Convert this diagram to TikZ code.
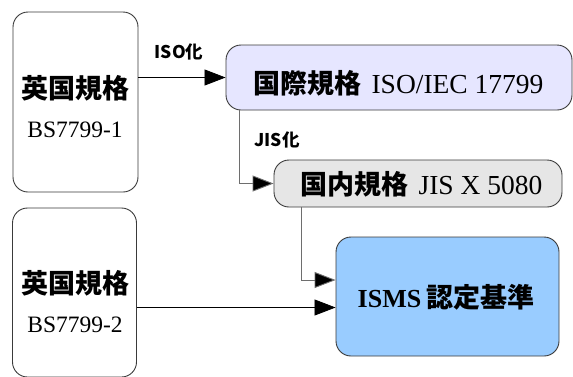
\documentclass[tikz,border=0pt]{standalone}
\usepackage{fontspec}
\setmainfont{Liberation Serif}
\newfontfamily\jp{Noto Sans CJK JP}
\usetikzlibrary{arrows.meta,calc}
\definecolor{bordgray}{HTML}{3A3A3A}
\definecolor{linegray}{HTML}{6E6E6E}
\definecolor{isofill}{HTML}{E6E6FF}
\definecolor{jisfill}{HTML}{E6E6E6}
\definecolor{ismsfill}{HTML}{99CCFF}
\tikzset{
  box/.style={draw=bordgray, line width=0.9pt, rounded corners=15pt, inner sep=0pt},
  jpb/.style={font=\jp\bfseries\fontsize{27}{30}\selectfont, inner sep=0pt},
  lat/.style={font=\fontsize{23.5}{26}\selectfont, inner sep=0pt},
  lbl/.style={font=\jp\bfseries\fontsize{17.5}{20}\selectfont, inner sep=0pt},
  arr/.style={draw=black, line width=0.8pt, -{Triangle[length=21pt,width=16pt]}},
  garr/.style={draw=linegray, line width=0.9pt, -{Triangle[length=21pt,width=16pt,fill=black]}},
}
\begin{document}
\begin{tikzpicture}[x=1pt,y=-1pt]
\useasboundingbox (0,0) rectangle (573,376);
% boxes
\node[box, minimum width=125pt, minimum height=180pt] (A) at (75.5,102) {};
\node[box, minimum width=124pt, minimum height=169pt] (B) at (74.5,292.5) {};
\node[box, fill=isofill, minimum width=346pt, minimum height=65pt] (iso) at (399,77.5) {};
\node[box, fill=jisfill, minimum width=288pt, minimum height=47pt] (jis) at (418,183.5) {};
\node[box, fill=ismsfill, minimum width=223pt, minimum height=119pt] (isms) at (447.5,296.5) {};
% texts
\node[jpb] (A1) at (75,88) {英国規格};
\node[lat] (A2) at (75,129.5) {BS7799-1};
\node[jpb] (B1) at (75,283) {英国規格};
\node[lat] (B2) at (75,324.5) {BS7799-2};
\node[inner sep=0pt] (isot) at (398.5,83) {{\jp\bfseries\fontsize{27}{30}\selectfont 国際規格}\hspace{10pt}{\fontsize{27.5}{30}\selectfont ISO/IEC 17799}};
\node[inner sep=0pt] (jist) at (421.5,184) {{\jp\bfseries\fontsize{27}{30}\selectfont 国内規格}\hspace{10pt}{\fontsize{27.5}{30}\selectfont JIS X 5080}};
\node[inner sep=0pt] (ismst) at (446,297) {{\bfseries\fontsize{26}{30}\selectfont ISMS}\hspace{5pt}{\jp\bfseries\fontsize{27}{30}\selectfont 認定基準}};
\node[lbl] (l1) at (179,52) {ISO化};
\node[lbl] (l2) at (277,140) {JIS化};
% connectors
\coordinate (in1) at ($(isms.west)+(0,-16.5)$);
\coordinate (in2) at ($(isms.west)+(0,11)$);
\coordinate (isoout) at ($(iso.south west)+(14,0)$);
\coordinate (jisout) at ($(jis.south west)+(28,0)$);
\draw[arr] (A.east |- iso.west) -- (iso.west);
\draw[garr] (isoout) |- (jis.west);
\draw[garr] (jisout) |- (in1);
\draw[arr] (B.east |- in2) -- (in2);
\end{tikzpicture}
\end{document}
